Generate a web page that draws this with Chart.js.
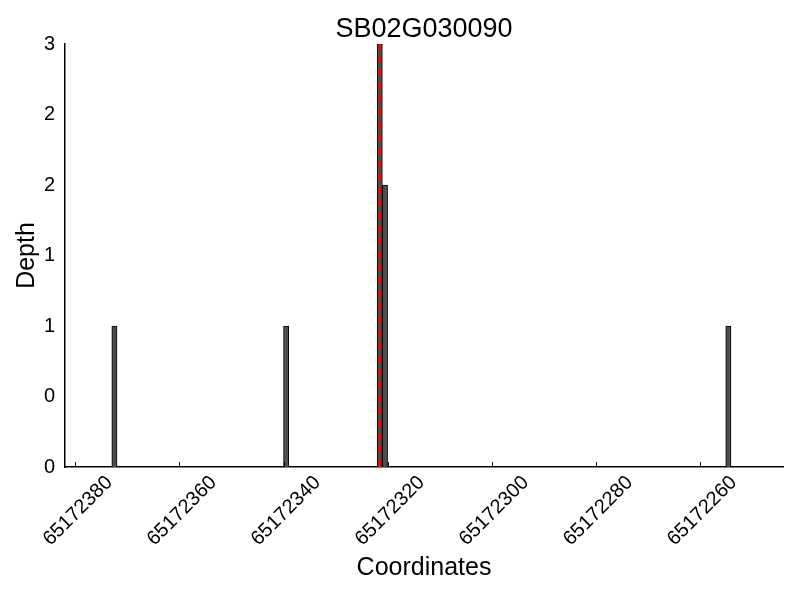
<!DOCTYPE html>
<html>
<head>
<meta charset="utf-8">
<script src="https://cdn.jsdelivr.net/npm/chart.js@4/dist/chart.umd.min.js"></script>
<style>
  body { margin: 0; background: #fff; }
  #wrap { width: 800px; height: 600px; }
</style>
</head>
<body>
<div id="wrap"><canvas id="depthchart" width="800" height="600"></canvas></div>
<script>
// bar centres (each bar covers one base)
var positions = [65172372.5, 65172339.5, 65172321.5, 65172320.5, 65172254.5];
var depths = [1, 1, 3, 2, 1];
var snpPos = 65172321.5;
var xTicks = [65172260, 65172280, 65172300, 65172320, 65172340, 65172360, 65172380];
var xMin = 65172244, xMax = 65172382;
var yTicks = [0, 0.5, 1, 1.5, 2, 2.5, 3];
var titleText = 'SB02G030090';

var font = 'Liberation Sans, Arial, sans-serif';

// inward tick marks on the x axis + title centred over the plot area
var extras = {
	id: 'extras',
	afterDraw: function (chart) {
		var ctx = chart.ctx;
		var x = chart.scales.x;
		var area = chart.chartArea;
		ctx.save();
		ctx.strokeStyle = '#000';
		ctx.lineWidth = 1;
		xTicks.forEach(function (v) {
			var px = Math.round(x.getPixelForValue(v)) + 0.5;
			ctx.beginPath();
			ctx.moveTo(px, area.bottom);
			ctx.lineTo(px, area.bottom - 5);
			ctx.stroke();
		});
		ctx.fillStyle = '#000';
		ctx.font = '27px ' + font;
		ctx.textAlign = 'center';
		ctx.textBaseline = 'middle';
		ctx.fillText(titleText, (area.left + area.right) / 2, 30);
		ctx.restore();
	}
};

var config = {
	type: 'bar',
	data: {
		datasets: [{
			type: 'line',
			data: [{ x: snpPos, y: 0 }, { x: snpPos, y: 3 }],
			borderColor: '#ff0000',
			borderWidth: 2.5,
			borderDash: [8, 5],
			pointRadius: 0,
			order: 0
		}, {
			data: positions.map(function (p, i) { return { x: p, y: depths[i] }; }),
			backgroundColor: '#4d4d4d',
			borderColor: '#000000',
			borderWidth: 1,
			barPercentage: 1,
			categoryPercentage: 1,
			order: 1
		}]
	},
	options: {
		responsive: false,
		animation: false,
		layout: { padding: { left: 0, right: 17, top: 44, bottom: 0 } },
		plugins: {
			legend: { display: false },
			tooltip: { enabled: false },
			title: { display: false }
		},
		scales: {
			x: {
				type: 'linear',
				reverse: true,
				min: xMin,
				max: xMax,
				offset: false,
				grid: { display: false, drawTicks: false },
				border: { display: true, color: '#000', width: 1.5 },
				afterBuildTicks: function (scale) {
					scale.ticks = xTicks.map(function (v) { return { value: v }; });
				},
				afterFit: function (scale) { scale.height = 133; },
				ticks: {
					color: '#000',
					font: { family: font, size: 20 },
					maxRotation: 45,
					minRotation: 45,
					padding: 4,
					labelOffset: 34,
					autoSkip: false,
					callback: function (v) { return String(v); }
				},
				title: {
					display: true,
					text: 'Coordinates',
					color: '#000',
					font: { family: font, size: 25 },
					padding: { top: 4, bottom: 17 }
				}
			},
			y: {
				min: 0,
				max: 3,
				grid: { display: false, drawTicks: false },
				border: { display: true, color: '#000', width: 1.5 },
				afterBuildTicks: function (scale) {
					scale.ticks = yTicks.map(function (v) { return { value: v }; });
				},
				afterFit: function (scale) { scale.width = 65; },
				ticks: {
					color: '#000',
					font: { family: font, size: 20 },
					padding: 10,
					callback: function (v) { return String(Math.floor(v)); }
				},
				title: {
					display: true,
					text: 'Depth',
					color: '#000',
					font: { family: font, size: 25 },
					padding: { top: 12, bottom: 0 }
				}
			}
		}
	},
	plugins: [extras]
};

var ctx = document.getElementById('depthchart').getContext('2d');
var depthChart = new Chart(ctx, config);
</script>
</body>
</html>
